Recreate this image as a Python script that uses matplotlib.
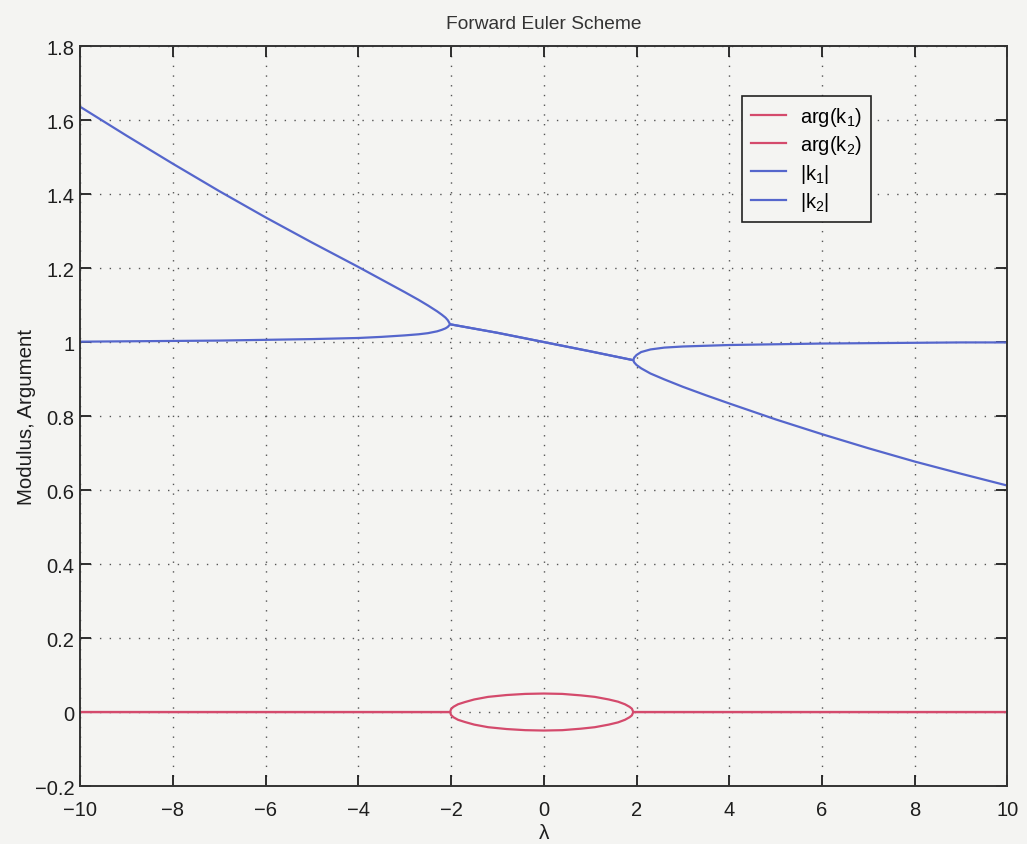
import matplotlib.pyplot as plt
from matplotlib.ticker import FuncFormatter

plt.rcParams['font.family'] = ['Liberation Sans', 'DejaVu Sans']
plt.rcParams['mathtext.default'] = 'regular'

# |k| branches
lam_left = [-10, -9, -8, -7, -6, -5, -4, -3.5, -3, -2.7, -2.5, -2.3, -2.2, -2.12, -2.07, -2.02]
k_left_up = [1.636, 1.558, 1.482, 1.408, 1.337, 1.269, 1.203, 1.169, 1.135, 1.114, 1.099,
             1.083, 1.074, 1.066, 1.059, 1.048]
k_left_lo = [1.001, 1.002, 1.003, 1.004, 1.006, 1.008, 1.011, 1.014, 1.018, 1.021, 1.024,
             1.029, 1.033, 1.037, 1.041, 1.048]

lam_mid = [-2.02, -1, 0, 1, 1.93]
k_mid = [1.048, 1.025, 1.0, 0.975, 0.951]

lam_right = [1.93, 1.95, 2.0, 2.1, 2.3, 2.6, 3, 3.5, 4, 5, 6, 7, 8, 9, 10]
k_right_up = [0.951, 0.958, 0.965, 0.973, 0.980, 0.985, 0.988, 0.990, 0.992, 0.994,
              0.996, 0.997, 0.998, 0.999, 0.999]
k_right_lo = [0.951, 0.945, 0.938, 0.929, 0.915, 0.899, 0.879, 0.856, 0.834, 0.791,
              0.751, 0.713, 0.677, 0.644, 0.612]

# arguments
lam_arg = [-10, -2.02, -2.0, -1.95, -1.85, -1.7, -1.5, -1.2, -0.8, -0.4, 0, 0.4, 0.8,
           1.1, 1.4, 1.6, 1.75, 1.85, 1.9, 1.93, 10]
arg_k1 = [0, 0, 0.008, 0.014, 0.021, 0.027, 0.034, 0.041, 0.046, 0.049, 0.050, 0.049,
          0.045, 0.041, 0.034, 0.028, 0.021, 0.014, 0.009, 0, 0]
arg_k2 = [-a for a in arg_k1]

xticks = list(range(-10, 11, 2))
yticks = [-0.2, 0, 0.2, 0.4, 0.6, 0.8, 1, 1.2, 1.4, 1.6, 1.8]

red = '#d44a6c'
blue = '#5566cc'
bg = '#f4f4f2'
ink = '#1e1e1e'

fig = plt.figure(figsize=(10.27, 8.45), dpi=100, facecolor=bg)
ax = fig.add_axes([0.078, 0.0686, 0.903, 0.8757], facecolor=bg)

ax.plot(lam_arg, arg_k1, color=red, lw=1.6, label='arg(k$_1$)')
ax.plot(lam_arg, arg_k2, color=red, lw=1.6, label='arg(k$_2$)')
# |k1|: big left branch -> middle -> falling right branch
ax.plot(lam_left + lam_mid[1:] + lam_right[1:], k_left_up + k_mid[1:] + k_right_lo[1:],
        color=blue, lw=1.6, label='|k$_1$|')
ax.plot(lam_left + lam_mid[1:] + lam_right[1:], k_left_lo + k_mid[1:] + k_right_up[1:],
        color=blue, lw=1.6, label='|k$_2$|')

ax.set_xlim(-10, 10)
ax.set_ylim(-0.2, 1.8)
ax.set_xticks(xticks)
ax.set_yticks(yticks)
ax.yaxis.set_major_formatter(FuncFormatter(lambda v, p: f'{v:g}'.replace('-', '\u2212')))
ax.tick_params(direction='in', length=8, width=1.3, top=True, right=True,
               labelsize=14.5, colors=ink)
ax.tick_params(axis='x', pad=10)
ax.tick_params(axis='y', pad=4)
ax.grid(True, color='#555555', linestyle=(0, (1, 6)), lw=1.0)
for s in ax.spines.values():
    s.set_linewidth(1.4)
    s.set_color('#333333')

ax.set_title('Forward Euler Scheme', fontsize=13.8, color='#333333', pad=13)
ax.set_xlabel('\u03bb', fontsize=15, color=ink, labelpad=3)
ax.set_ylabel('Modulus, Argument', fontsize=14.8, color=ink, labelpad=-1)

leg = ax.legend(loc='upper left', bbox_to_anchor=(0.714, 0.932), fontsize=14.5,
                handlelength=1.7, borderpad=0.45, labelspacing=0.25, borderaxespad=0,
                handletextpad=0.7, fancybox=False, framealpha=1.0,
                edgecolor='#222222', facecolor=bg)
leg.get_frame().set_linewidth(1.2)

plt.savefig('out.png', dpi=100, facecolor=bg)
